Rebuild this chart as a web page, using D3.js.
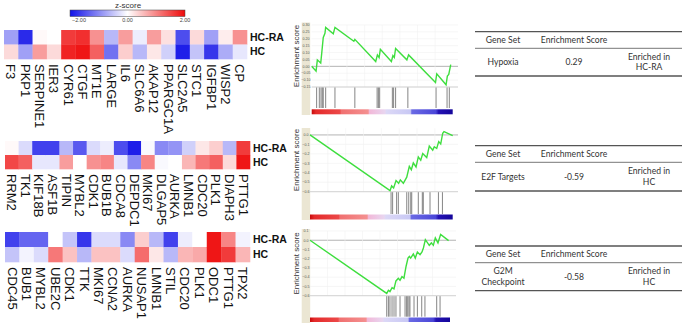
<!DOCTYPE html>
<html>
<head>
<meta charset="utf-8">
<script src="https://cdn.jsdelivr.net/npm/d3@7"></script>
<style>
  body { margin: 0; background: #fff; }
  svg { display: block; }
</style>
</head>
<body>
<div id="chart_area"></div>
<script>
// ---- heatmap data (z-scores) ----
var rowNames = ["HC-RA", "HC"];

var hm1Genes = ["F3", "PKP1", "SERPINE1", "IER3", "CYR61", "CTGF", "MT1E", "LARGE", "IL6", "SLC6A6", "AKAP12", "PPARGC1A", "SLC2A5", "STC1", "IGFBP1", "WISP2", "CP"];
var hm1HCRA = [-0.8, -1.8, 0.05, 0.0, 1.6, 1.7, 0.9, -0.6, 0.8, -0.15, 0.8, 0.25, -1.5, 0.3, -0.8, 0.15, 0.9];
var hm1HC   = [0.3, -0.8, 0.8, 0.3, 1.8, 1.9, 1.3, -1.2, 0.4, -0.6, 0.2, -0.4, -1.9, -0.5, -1.7, -0.7, -0.2];

var hm2Genes = ["RRM2", "TK1", "KIF18B", "ASF1B", "TIPIN", "MYBL2", "CDK1", "BUB1B", "CDCA8", "DEPDC1", "MKI67", "DLGAP5", "AURKA", "LMNB1", "CDC20", "PLK1", "DIAPH3", "PTTG1"];
var hm2HCRA = [0.05, -0.3, -1.6, -1.6, -0.6, -1.4, -0.3, -0.15, -1.5, -1.9, -0.05, -1.0, -0.9, -0.4, 0.2, 0.4, -0.6, 1.6];
var hm2HC   = [1.5, 1.3, -0.2, -0.2, 0.8, 0.0, 0.9, 1.0, -0.2, -1.0, 1.0, -0.05, 0.0, 0.6, 1.1, 1.3, 0.3, 1.9];

var hm3Genes = ["CDC45", "BUB1", "MYBL2", "UBE2C", "CDK1", "TTK", "MKI67", "CCNA2", "AURKA", "NUSAP1", "LMNB1", "STIL", "CDC20", "PLK1", "ODC1", "PTTG1", "TPX2"];
var hm3HCRA = [-1.6, -1.3, -1.3, 0.0, -0.5, -1.7, -0.3, -0.3, -1.0, 0.4, -0.6, -1.6, -0.15, 0.0, 1.9, 1.0, -0.1];
var hm3HC   = [-0.5, -0.1, -0.3, 1.1, 0.5, -0.6, 0.5, 0.5, -0.3, 1.2, 0.2, -0.6, 0.6, 0.7, 1.9, 1.6, 0.6];

var zTicks = [-2, 0, 2];

// ---- GSEA running enrichment score (rank fraction, ES) ----
var es1Rank  = [0, 0.031, 0.040, 0.064, 0.071, 0.082, 0.094, 0.099, 0.153, 0.165, 0.299, 0.306, 0.454, 0.466, 0.478, 0.487, 0.565, 0.576, 0.586, 0.595, 0.675, 0.687, 0.878, 0.887, 0.953, 0.962, 0.972, 0.986];
var es1Score = [0, -0.035, 0.047, 0.024, 0.094, 0.210, 0.240, 0.283, 0.236, 0.283, 0.182, 0.196, 0.035, 0.083, 0.064, 0.123, 0.035, 0.078, 0.064, 0.130, 0.047, 0.083, -0.118, -0.054, -0.134, -0.071, -0.059, 0.012];
var hits1 = [0.035, 0.054, 0.066, 0.075, 0.082, 0.099, 0.165, 0.306, 0.464, 0.473, 0.482, 0.572, 0.581, 0.595, 0.682, 0.882, 0.96, 0.976];
var es1Ticks = [0.30, 0.25, 0.20, 0.15, 0.10, 0.05, 0.00, -0.05, -0.10, -0.15];

var es2Rank  = [0, 0.561, 0.572, 0.586, 0.603, 0.621, 0.633, 0.654, 0.678, 0.696, 0.710, 0.724, 0.743, 0.759, 0.776, 0.790, 0.818, 0.836, 0.860, 0.871, 0.888, 0.902, 0.916, 0.930, 0.939, 1.0];
var es2Score = [0, -0.589, -0.539, -0.561, -0.482, -0.511, -0.475, -0.511, -0.446, -0.332, -0.368, -0.296, -0.339, -0.232, -0.268, -0.196, -0.239, -0.118, -0.161, -0.125, -0.143, -0.071, -0.096, 0.018, 0.036, -0.007];
var hits2 = [0.568, 0.579, 0.607, 0.619, 0.678, 0.692, 0.706, 0.713, 0.759, 0.787, 0.794, 0.841, 0.9, 0.928];
var es2Ticks = [0.0, -0.1, -0.2, -0.3, -0.4, -0.5, -0.6];

var es3Rank  = [0, 0.548, 0.560, 0.571, 0.586, 0.600, 0.614, 0.631, 0.643, 0.657, 0.671, 0.686, 0.700, 0.710, 0.719, 0.738, 0.752, 0.767, 0.786, 0.800, 0.810, 0.824, 0.852, 0.867, 0.881, 0.895, 0.914, 0.933, 0.990];
var es3Score = [0, -0.575, -0.542, -0.556, -0.513, -0.527, -0.44, -0.411, -0.433, -0.393, -0.411, -0.284, -0.193, -0.175, -0.193, -0.149, -0.193, -0.127, -0.156, -0.127, -0.084, 0.007, -0.055, -0.029, -0.055, 0.025, -0.029, 0.062, -0.004];
var hits3 = [0.548, 0.56, 0.571, 0.586, 0.6, 0.614, 0.643, 0.679, 0.69, 0.698, 0.707, 0.714, 0.743, 0.767, 0.798, 0.821, 0.905, 0.929];
var es3Ticks = [0.1, 0.0, -0.1, -0.2, -0.3, -0.4, -0.5, -0.6];

// ---- tables ----
var tableHeader = ["Gene Set", "Enrichment Score"];
var tableGeneSets = [["Hypoxia"], ["E2F Targets"], ["G2M", "Checkpoint"]];
var tableScores = ["0.29", "-0.59", "-0.58"];
var tableEnriched = [["Enriched in", "HC-RA"], ["Enriched in", "HC"], ["Enriched in", "HC"]];


var svg = d3.select("#chart_area")
    .append("svg")
    .attr("width", 684)
    .attr("height", 325);

var defs = svg.append("defs");

var zColor = d3.scaleLinear()
    .domain([-2, 0, 2])
    .range(["#1212e8", "#ffffff", "#ee0a0a"]);

// z-score legend
var zLeg = defs.append("linearGradient").attr("id", "zgrad");
zLeg.append("stop").attr("offset", "0%").attr("stop-color", zColor(-2));
zLeg.append("stop").attr("offset", "50%").attr("stop-color", zColor(0));
zLeg.append("stop").attr("offset", "100%").attr("stop-color", zColor(2));

svg.append("text")
    .attr("x", 128).attr("y", 5).attr("dy", "0.35em")
    .attr("text-anchor", "middle")
    .style("font", "8px 'Liberation Sans', Arial, sans-serif")
    .style("fill", "#333")
    .text("z-score");
svg.append("rect")
    .attr("x", 70).attr("y", 10).attr("width", 115).attr("height", 6.5)
    .attr("fill", "url(#zgrad)")
    .attr("stroke", "#444").attr("stroke-width", 0.5);
var zLabel = d3.scaleLinear().domain([-2, 2]).range([79, 185]);
svg.selectAll(".ztick")
    .data(zTicks)
    .enter()
    .append("text")
    .attr("x", function (d) { return d === 0 ? 127.5 : zLabel(d); })
    .attr("y", 20.5).attr("dy", "0.35em")
    .attr("text-anchor", "middle")
    .style("font", "5.5px 'Liberation Sans', Arial, sans-serif")
    .style("fill", "#444")
    .text(function (d) { return d3.format(".2f")(d); });

function drawHeatmap(genes, hcra, hc, x0, x1, y0, y1) {
    var x = d3.scaleBand().domain(genes).range([x0, x1]);
    var y = d3.scaleBand().domain(rowNames).range([y0, y1]);
    var cells = [];
    genes.forEach(function (g, i) {
        cells.push({ gene: g, row: "HC-RA", value: hcra[i] });
        cells.push({ gene: g, row: "HC", value: hc[i] });
    });
    var g = svg.append("g");
    g.selectAll("rect")
        .data(cells)
        .enter()
        .append("rect")
        .attr("x", function (d) { return x(d.gene); })
        .attr("y", function (d) { return y(d.row); })
        .attr("width", x.bandwidth() + 0.3)
        .attr("height", y.bandwidth() + 0.3)
        .attr("fill", function (d) { return zColor(d.value); });

    // row labels
    g.selectAll(".rowlab")
        .data(rowNames)
        .enter()
        .append("text")
        .attr("x", x1 + 3)
        .attr("y", function (d) { return y(d) + y.bandwidth() / 2; })
        .attr("dy", "0.35em")
        .style("font", "bold 10.5px 'Liberation Sans', Arial, sans-serif")
        .style("fill", "#111")
        .text(function (d) { return d; });

    // gene labels, rotated
    g.selectAll(".genelab")
        .data(genes)
        .enter()
        .append("text")
        .attr("transform", function (d) {
            return "translate(" + (x(d) + x.bandwidth() / 2) + "," + (y1 + 5) + ")rotate(90)";
        })
        .attr("dy", "0.36em")
        .style("font", "13px 'Liberation Sans', Arial, sans-serif")
        .style("fill", "#111")
        .text(function (d) { return d; });
}

drawHeatmap(hm1Genes, hm1HCRA, hm1HC, 4, 247, 30, 59);
drawHeatmap(hm2Genes, hm2HCRA, hm2HC, 5, 250, 141, 169);
drawHeatmap(hm3Genes, hm3HCRA, hm3HC, 5, 250, 232, 262);

// ranked list colour bar gradient
var rankStops = [
    ["0%", "#c80a0a"], ["3%", "#e42a2a"], ["20%", "#ec4848"], ["21%", "#f07070"],
    ["40%", "#f49090"], ["41%", "#f2b8d8"], ["52%", "#e8d6f0"], ["53%", "#dcd8f6"],
    ["70%", "#c8c8f4"], ["71%", "#6a6ae4"], ["88%", "#4a46d8"], ["90%", "#2412b4"], ["100%", "#14069a"]
];
var rg = defs.append("linearGradient").attr("id", "rankgrad");
rankStops.forEach(function (s) {
    rg.append("stop").attr("offset", s[0]).attr("stop-color", s[1]);
});

function drawGsea(c) {
    var x = d3.scaleLinear().domain([0, 1]).range([c.x0, c.x1]);
    var y = d3.scaleLinear().domain(c.domain).range([c.esBottom, c.esTop]);
    var g = svg.append("g");

    // beige axis strip
    g.append("rect")
        .attr("x", c.stripX).attr("y", c.stripTop)
        .attr("width", 8.5).attr("height", c.stripBottom - c.stripTop)
        .attr("fill", "#ebe6d3");

    // grid
    g.selectAll(".hgrid")
        .data(c.ticks)
        .enter()
        .append("line")
        .attr("x1", c.x0).attr("x2", c.gridX1)
        .attr("y1", function (d) { return y(d); })
        .attr("y2", function (d) { return y(d); })
        .attr("stroke", function (d) { return d === 0 ? "#b4b4b4" : "#f0f0f0"; })
        .attr("stroke-width", function (d) { return d === 0 ? 1 : 0.6; });
    g.selectAll(".vgrid")
        .data(d3.range(1, 8).map(function (i) { return i / 8; }))
        .enter()
        .append("line")
        .attr("x1", function (d) { return x(d); })
        .attr("x2", function (d) { return x(d); })
        .attr("y1", c.esTop).attr("y2", c.esBottom)
        .attr("stroke", "#f2f2f2").attr("stroke-width", 0.6);
    g.append("line")
        .attr("x1", c.x0).attr("x2", c.gridX1)
        .attr("y1", c.esBottom).attr("y2", c.esBottom)
        .attr("stroke", "#c8c8c8").attr("stroke-width", 0.8);

    // tick labels on strip
    g.selectAll(".esTick")
        .data(c.ticks)
        .enter()
        .append("text")
        .attr("x", c.stripX + 4.2)
        .attr("y", function (d) { return y(d); })
        .attr("dy", "0.35em")
        .attr("text-anchor", "middle")
        .style("font", "3.6px 'Liberation Sans', Arial, sans-serif")
        .style("fill", "#555")
        .text(function (d) { return d3.format(c.fmt)(d); });

    // axis title
    g.append("text")
        .attr("transform", "translate(" + (c.stripX - 5.5) + "," + ((c.esTop + c.esBottom) / 2) + ")rotate(-90)")
        .attr("dy", "0.35em")
        .attr("text-anchor", "middle")
        .style("font", "8px 'Liberation Sans', Arial, sans-serif")
        .style("fill", "#333")
        .text("Enrichment score");

    // running ES line
    var pts = c.rank.map(function (r, i) { return [r, c.score[i]]; });
    g.append("path")
        .datum(pts)
        .attr("d", d3.line()
            .x(function (d) { return x(d[0]); })
            .y(function (d) { return y(d[1]); }))
        .attr("fill", "none")
        .attr("stroke", "#3ede3e")
        .attr("stroke-width", 1.4);

    // hits
    g.selectAll(".hit")
        .data(c.hits)
        .enter()
        .append("line")
        .attr("x1", function (d) { return x(d); })
        .attr("x2", function (d) { return x(d); })
        .attr("y1", c.esBottom + 0.5).attr("y2", c.hitBottom)
        .attr("stroke", "#666").attr("stroke-width", 0.8);

    // ranked list metric bar
    g.append("rect")
        .attr("x", c.x0).attr("y", c.barTop)
        .attr("width", c.x1 - c.x0).attr("height", c.barBottom - c.barTop)
        .attr("fill", "url(#rankgrad)");
}

drawGsea({ rank: es1Rank, score: es1Score, hits: hits1, ticks: es1Ticks, fmt: ".2f",
    domain: [-0.15, 0.30], x0: 311.7, x1: 452.7, gridX1: 458, stripX: 301.7,
    esTop: 25, esBottom: 87, hitBottom: 108, barTop: 109.3, barBottom: 114.3, stripTop: 22.5, stripBottom: 115 });
drawGsea({ rank: es2Rank, score: es2Score, hits: hits2, ticks: es2Ticks, fmt: ".1f",
    domain: [-0.6, 0.07], x0: 310, x1: 452.7, gridX1: 458, stripX: 301.7,
    esTop: 128.3, esBottom: 191.7, hitBottom: 214, barTop: 214.5, barBottom: 219.5, stripTop: 128, stripBottom: 220 });
drawGsea({ rank: es3Rank, score: es3Score, hits: hits3, ticks: es3Ticks, fmt: ".1f",
    domain: [-0.6, 0.1], x0: 310, x1: 450, gridX1: 456, stripX: 301.7,
    esTop: 231, esBottom: 295.7, hitBottom: 316.7, barTop: 317.5, barBottom: 322, stripTop: 229, stripBottom: 323 });

// tables
var tableTops = [31.7, 145.7, 246];
var tableHeaderLines = [48.3, 162.3, 262.7];
var tableBottoms = [76, 191, 290.7];
var colX = [503, 574, 649];
var tFont = "8.6px Lato, 'Open Sans', sans-serif";

tableTops.forEach(function (top, i) {
    var g = svg.append("g");
    var hl = tableHeaderLines[i], bot = tableBottoms[i];
    g.append("line").attr("x1", 475).attr("x2", 682).attr("y1", top).attr("y2", top)
        .attr("stroke", "#555").attr("stroke-width", 1.3);
    g.append("line").attr("x1", 475).attr("x2", 682).attr("y1", hl).attr("y2", hl)
        .attr("stroke", "#777").attr("stroke-width", 1);
    g.append("line").attr("x1", 475).attr("x2", 682).attr("y1", bot).attr("y2", bot)
        .attr("stroke", "#555").attr("stroke-width", 1.3);

    g.selectAll(".hdr")
        .data(tableHeader)
        .enter()
        .append("text")
        .attr("x", function (d, j) { return colX[j]; })
        .attr("y", (top + hl) / 2).attr("dy", "0.35em")
        .attr("text-anchor", "middle")
        .style("font", tFont).style("fill", "#333")
        .text(function (d) { return d; });

    var mid = (hl + bot) / 2;
    var cols = [tableGeneSets[i], [tableScores[i]], tableEnriched[i]];
    cols.forEach(function (lines, j) {
        g.selectAll(".c" + j)
            .data(lines)
            .enter()
            .append("text")
            .attr("x", colX[j])
            .attr("y", function (d, k) { return mid + (k - (lines.length - 1) / 2) * 10.5; })
            .attr("dy", "0.35em")
            .attr("text-anchor", "middle")
            .style("font", tFont).style("fill", "#333")
            .text(function (d) { return d; });
    });
});
</script>
</body>
</html>
